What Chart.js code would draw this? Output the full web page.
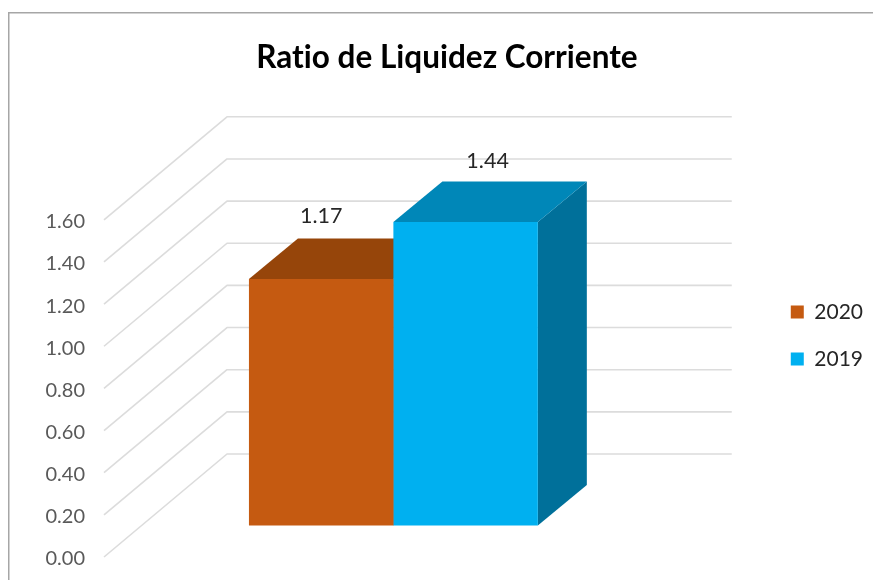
<!DOCTYPE html>
<html>
<head>
<meta charset="utf-8">
<style>html,body{margin:0;padding:0;background:#fff}#w{width:873px;height:580px}</style>
<script src="https://cdn.jsdelivr.net/npm/chart.js@4"></script>
</head>
<body>
<div id="w"><canvas id="c" width="873" height="580"></canvas></div>
<script>
const categories = ['Ratio de Liquidez Corriente'];
const seriesNames = ['2020', '2019'];
const values2020 = [1.17];
const values2019 = [1.44];
const frontColors = ['#C55A11', '#00B0F0'];
const topColors = ['#96450A', '#0087B8'];
const sideColors = ['#7A3809', '#00709A'];

const FONT = 'Lato, Carlito, sans-serif';
const WALL = {dx: 123, dy: 103};      // gridline run from front edge to back wall
const FLOOR = {x: 37};                // bars stand this far into the floor
const DEPTH = {dx: 49, dy: 40.5};     // bar depth
const LABEL = [{dx: 0, dy: -63}, {dx: 22, dy: -61}];
const LEGEND_CENTER_Y = 335.5;
const TICK_DROP = 2;                  // tick labels sit slightly below their gridline

const scene = {
  id: 'scene',
  afterLayout(chart) {
    const L = chart.legend;
    const shift = LEGEND_CENTER_Y - (L.top + L.bottom) / 2;
    L.top += shift;
    L.bottom += shift;
  },
  beforeDraw(chart) {
    const c = chart.ctx;
    c.textRendering = 'optimizeSpeed';
    c.save();
    c.fillStyle = '#fff';
    c.fillRect(0, 0, chart.width, chart.height);
    c.strokeStyle = '#a6a6a6';
    c.lineWidth = 1.5;
    c.beginPath();
    c.moveTo(8.75, chart.height);
    c.lineTo(8.75, 12.75);
    c.lineTo(chart.width, 12.75);
    c.stroke();
    c.restore();
  },
  beforeDatasetsDraw(chart) {
    const c = chart.ctx, y = chart.scales.y, a = chart.chartArea;
    const frontX = a.left - FLOOR.x, backR = a.right - FLOOR.x + WALL.dx;
    c.save();
    c.strokeStyle = '#dcdcdc';
    c.lineWidth = 1.6;
    c.lineJoin = 'round';
    y.ticks.forEach(t => {
      const p = y.getPixelForValue(t.value) - TICK_DROP;
      c.beginPath();
      c.moveTo(frontX, p);
      c.lineTo(frontX + WALL.dx, p - WALL.dy);
      c.lineTo(backR, p - WALL.dy);
      c.stroke();
    });
    chart.data.datasets.forEach((d, i) => {
      chart.getDatasetMeta(i).data.forEach(b => {
        const l = b.x - b.width / 2, r = b.x + b.width / 2, t = b.y, bt = b.base;
        c.fillStyle = sideColors[i];
        c.beginPath();
        c.moveTo(r, t); c.lineTo(r + DEPTH.dx, t - DEPTH.dy);
        c.lineTo(r + DEPTH.dx, bt - DEPTH.dy); c.lineTo(r, bt);
        c.closePath(); c.fill();
        c.fillStyle = topColors[i];
        c.beginPath();
        c.moveTo(l, t); c.lineTo(l + DEPTH.dx, t - DEPTH.dy);
        c.lineTo(r + DEPTH.dx, t - DEPTH.dy); c.lineTo(r, t);
        c.closePath(); c.fill();
      });
    });
    c.restore();
  },
  afterDatasetsDraw(chart) {
    const c = chart.ctx;
    c.save();
    c.font = '21.5px ' + FONT;
    c.fillStyle = '#262626';
    c.textAlign = 'center';
    c.textBaseline = 'middle';
    chart.data.datasets.forEach((d, i) => {
      chart.getDatasetMeta(i).data.forEach((b, k) => {
        c.fillText(d.data[k].toFixed(2), b.x + LABEL[i].dx, b.y + LABEL[i].dy);
      });
    });
    c.restore();
  }
};

new Chart(document.getElementById('c'), {
  type: 'bar',
  data: {
    labels: categories,
    datasets: [
      {label: seriesNames[0], data: values2020, backgroundColor: frontColors[0], yAxisID: 'bars', clip: false},
      {label: seriesNames[1], data: values2019, backgroundColor: frontColors[1], yAxisID: 'bars', clip: false}
    ]
  },
  options: {
    responsive: false,
    animation: false,
    barPercentage: 1,
    categoryPercentage: 0.5723,
    layout: {padding: {left: 21, right: 0, top: 0, bottom: 21}},
    plugins: {
      tooltip: {enabled: false},
      title: {
        display: true,
        text: categories[0],
        color: '#000',
        font: {family: FONT, size: 31.5, weight: 'bold'},
        padding: {top: 39, bottom: 145}
      },
      legend: {
        position: 'right',
        align: 'center',
        labels: {
          boxWidth: 13, boxHeight: 13,
          color: '#262626',
          font: {family: FONT, size: 21},
          padding: 26
        }
      }
    },
    scales: {
      x: {display: false},
      y: {
        position: 'left',
        min: 0, max: 1.6,
        afterFit(s) { s.width = 141 - 21; s.paddingTop = 0; s.paddingBottom = 0; },
        grid: {display: false, drawTicks: false},
        border: {display: false},
        ticks: {
          stepSize: 0.2,
          padding: 56,
          color: '#595959',
          font: {family: FONT, size: 20},
          callback: v => v.toFixed(2)
        }
      },
      bars: {
        position: 'right',
        min: -0.159, max: 1.441,
        afterFit(s) { s.width = 119; },
        grid: {display: false, drawTicks: false},
        border: {display: false},
        ticks: {display: false}
      }
    }
  },
  plugins: [scene]
});
</script>
</body>
</html>
